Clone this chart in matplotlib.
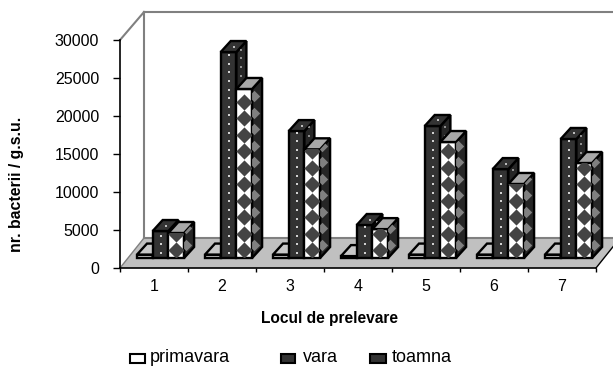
import numpy as np
import matplotlib
matplotlib.use("Agg")
from matplotlib import pyplot as plt
from matplotlib.patches import Polygon, Rectangle

plt.rcParams['font.family'] = ['Liberation Sans', 'DejaVu Sans']

categories = [1, 2, 3, 4, 5, 6, 7]
primavara = [450, 450, 450, 250, 450, 450, 450]
vara = [3550, 27100, 16700, 4340, 17370, 11700, 15660]
toamna = [3290, 22240, 14300, 3800, 15260, 9740, 12500]
y_ticks = [0, 5000, 10000, 15000, 20000, 25000, 30000]
series_names = ["primavara", "vara", "toamna"]

W, H = 613, 366
LEFT, RIGHT, BOTTOM, TOP = 120, 596, 268, 40  # axes box in pixels
WALL_X, WALL_Y = 24, 30    # depth of the floor
DEPTH_X, DEPTH_Y = 10, 11  # depth of a bar
SHIFT_Y = 10               # bars stand a bit back from the front edge
BAR_PX = 15.7

fig = plt.figure(figsize=(W / 100, H / 100), dpi=100)
ax = fig.add_axes([LEFT / W, 1 - BOTTOM / H, (RIGHT - LEFT) / W, (BOTTOM - TOP) / H])
ax.set_xlim(0.5, 7.5)
ax.set_ylim(0, 30000)
ax.patch.set_visible(False)

ux = 7 / (RIGHT - LEFT)      # one pixel in x data
uy = 30000 / (BOTTOM - TOP)  # one pixel in y data


def poly(pts, fc, ec='black', lw=1.7, z=3):
    p = Polygon(pts, closed=True, facecolor=fc, edgecolor=ec, linewidth=lw, zorder=z,
                clip_on=False, joinstyle='miter')
    ax.add_patch(p)
    return p


def bar3d(x0, val, front, side, top, z):
    w = BAR_PX * ux
    d, e = DEPTH_X * ux, DEPTH_Y * uy
    y0 = SHIFT_Y * uy
    y1 = y0 + val
    f = poly([(x0, y0), (x0 + w, y0), (x0 + w, y1), (x0, y1)], front, z=z)
    s = poly([(x0 + w, y0), (x0 + w + d, y0 + e), (x0 + w + d, y1 + e), (x0 + w, y1)], side, z=z)
    t = poly([(x0, y1), (x0 + w, y1), (x0 + w + d, y1 + e), (x0 + d, y1 + e)], top, z=z)
    return f, s, t, x0, y0, y1, w, d, e


def dots(clip, xc, y0, y1, color, size, step=8.6, first=5, marker='s', z=3.2):
    ys = np.arange(y0 + first * uy, y1, step * uy)
    xs = np.full(len(ys), xc)
    art = ax.scatter(xs, ys, s=size, c=color, marker=marker, linewidths=0, zorder=z, clip_on=True)
    art.set_clip_path(clip)


# walls and floor
wx, wy = WALL_X * ux, WALL_Y * uy
wall_top = 30000 + (TOP - 12) * uy
poly([(0.5, 0), (7.5, 0), (7.5 + wx, wy), (0.5 + wx, wy)], '#c0c0c0', ec='none', lw=0, z=1)
ax.plot([0.5 + wx, 7.5 + wx], [wy, wy], color='#808080', lw=1.5, clip_on=False, zorder=1.5)
ax.plot([0.5 + wx, 0.5 + wx], [wy, wall_top], color='#808080', lw=1.5, clip_on=False, zorder=1.5)
ax.plot([0.5 + wx, 7.5 + wx], [wall_top, wall_top], color='#808080', lw=1.5, clip_on=False, zorder=1.5)
ax.plot([0.5, 0.5 + wx], [30000, wall_top], color='#808080', lw=1.5, clip_on=False, zorder=1.5)
ax.plot([0.5, 0.5 + wx], [0, wy], color='#808080', lw=1, clip_on=False, zorder=1.5)
ax.plot([7.5, 7.5 + wx], [0, wy], color='black', lw=1, clip_on=False, zorder=1.5)

for i, cat in enumerate(categories):
    x = cat - 0.5 + 17 * ux
    z = 3 + i * 0.1
    # primavara
    bar3d(x, primavara[i], 'white', '#bdbdbd', '#c8c8c8', z)
    # vara
    f, s, t, x0, y0, y1, w, d, e = bar3d(x + BAR_PX * ux, vara[i], '#333333', '#262626', '#333333', z + 0.02)
    dots(f, x0 + w / 2, y0, y1, '#d0d0d0', 3.5, z=z + 0.03)
    dots(s, x0 + w + d / 2, y0 + e / 2, y1 + e / 2, '#8f8f8f', 2.5, z=z + 0.03)
    dots(t, x0 + w / 2 + d / 2, y1 + e / 2, y1 + e, '#bbbbbb', 3.5, first=0, z=z + 0.03)
    # toamna
    f, s, t, x0, y0, y1, w, d, e = bar3d(x + 2 * BAR_PX * ux, toamna[i], 'white', '#262626', '#a8a8a8', z + 0.05)
    dots(f, x0 + w / 2, y0, y1, '#444444', 68, step=16.5, first=8, marker='D', z=z + 0.06)
    dots(s, x0 + w + d * 0.2, y0 + e / 2, y1 + e / 2, '#808080', 34, step=16.5, first=8, marker='D', z=z + 0.06)

ax.spines['top'].set_visible(False)
ax.spines['right'].set_visible(False)
ax.spines['left'].set_linewidth(1.2)
ax.spines['bottom'].set_linewidth(1.2)
ax.set_yticks(y_ticks)
ax.set_xticks(np.arange(0.5, 8))
ax.set_xticklabels([])
ax.set_xticks(categories, labels=[str(c) for c in categories], minor=True)
ax.tick_params(axis='x', which='minor', length=0, labelsize=11.5, pad=8)
ax.tick_params(axis='x', which='major', length=3, width=1, direction='out')
ax.tick_params(axis='y', length=5, width=1, labelsize=11.5, pad=10)
ax.set_xlabel("Locul de prelevare", fontsize=11.2, fontweight='bold')
ax.xaxis.set_label_coords((329.5 - LEFT) / (RIGHT - LEFT), -(311 - BOTTOM) / (BOTTOM - TOP))
ax.set_ylabel("nr. bacterii / g.s.u.", fontsize=11.4, fontweight='bold')
ax.yaxis.set_label_coords((24 - LEFT) / (RIGHT - LEFT), (BOTTOM - 184) / (BOTTOM - TOP))

# legend
legend_x = [(130, 150, 15), (281, 303, 14), (370, 392, 16)]
legend_fill = ['white', '#333333', '#333333']
for name, (sx, tx, sw), fc in zip(series_names, legend_x, legend_fill):
    fig.add_artist(Rectangle((sx / W, 1 - 363 / H), sw / W, 9 / H, facecolor=fc, edgecolor='black',
                             linewidth=1.5, transform=fig.transFigure))
    fig.text(tx / W, 1 - 361.5 / H, name, fontsize=13, va='baseline', ha='left')

fig.savefig("out.png", dpi=100)
